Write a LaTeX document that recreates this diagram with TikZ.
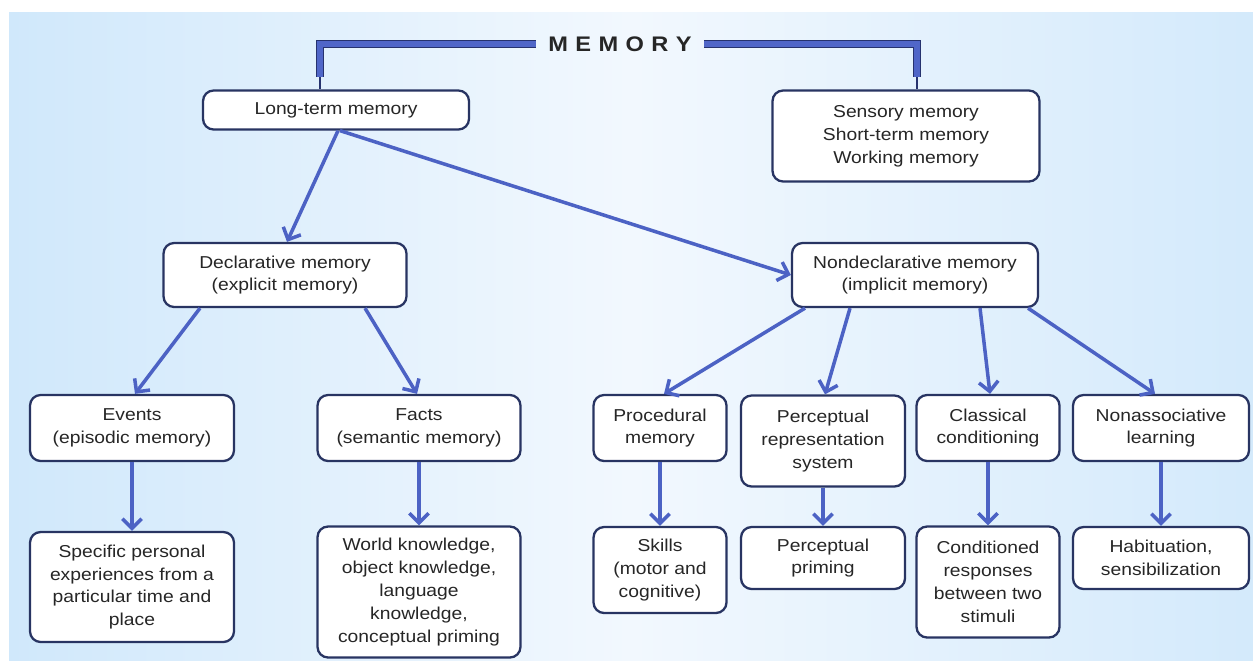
\documentclass[tikz,border=0pt]{standalone}
\usepackage{fontspec}
\setmainfont{Liberation Sans}[FakeStretch=1.12]
\usepackage{tikz}
\usetikzlibrary{arrows.meta, calc}
\definecolor{bgblue}{RGB}{160,207,246}
\definecolor{bglight}{RGB}{208,232,251}
\definecolor{bgmid}{RGB}{242,248,254}
\definecolor{arrowblue}{RGB}{76,98,196}
\definecolor{boxline}{RGB}{40,52,98}
\definecolor{barblue}{RGB}{80,102,200}
\definecolor{barline}{RGB}{38,50,110}
\pgfdeclarehorizontalshading{bgshade}{100bp}{color(0bp)=(bgblue); color(6bp)=(bglight); color(25bp)=(bglight); color(50bp)=(bgmid); color(78bp)=(bglight); color(93bp)=(bglight); color(100bp)=(bgblue)}
\tikzstyle{arrow} = [draw=arrowblue, line width=2pt, -{Straight Barb[length=5.5pt,width=11pt]}]
\tikzstyle{memb} = [draw=boxline, line width=1.3pt, fill=white, rounded corners=6pt, align=center, inner sep=0pt, text=black!85, font=\fontsize{9.8}{13}\selectfont]
\tikzstyle{bar} = [draw=barline, line width=0.6pt, double=barblue, double distance=3.6pt]
\tikzstyle{stem} = [draw=barline, line width=1pt]

\begin{document}
\begin{tikzpicture}[x=0.02cm, y=-0.02cm]
		% background
		\fill[white] (0,0) rectangle (1253,660);
		\shade[shading=bgshade] (9,12) rectangle (1253,660);
		\useasboundingbox (0,0) rectangle (1253,660);

		% title and bracket
		\node (title) at (620,44) [inner xsep=7pt, inner ysep=0pt, text=black!85, font=\fontsize{12}{12}\selectfont\bfseries] {M\hspace{4.2pt}E\hspace{4.2pt}M\hspace{4.2pt}O\hspace{4.2pt}R\hspace{4.2pt}Y};
		\node (ltm) at (336,110) [memb, minimum width=5.32cm, minimum height=0.78cm] {Long-term memory};
		\node (stm) at (906,136) [memb, minimum width=5.34cm, minimum height=1.82cm] {Sensory memory\\Short-term memory\\Working memory};
		\coordinate (lcorner) at (320,77);
		\coordinate (rcorner) at (917,77);
		\draw [bar] (title.west) -| (lcorner);
		\draw [bar] (title.east) -| (rcorner);
		\draw [stem] (lcorner) -- (lcorner |- ltm.north);
		\draw [stem] (rcorner) -- (rcorner |- stm.north);

		% second level
		\node (decl) at (285,275) [memb, minimum width=4.86cm, minimum height=1.28cm] {Declarative memory\\(explicit memory)};
		\node (nondecl) at (915,275) [memb, minimum width=4.92cm, minimum height=1.28cm] {Nondeclarative memory\\(implicit memory)};
		\draw [arrow] ($(ltm.south)+(2,0)$) -- ($(decl.north)+(2,0)$);
		\draw [arrow] ($(ltm.south)+(4,0)$) -- (nondecl.west);

		% third level
		\node (events) at (132,428) [memb, minimum width=4.08cm, minimum height=1.32cm] {Events\\(episodic memory)};
		\node (facts) at (419,428) [memb, minimum width=4.06cm, minimum height=1.32cm] {Facts\\(semantic memory)};
		\node (proc) at (660,428) [memb, minimum width=2.66cm, minimum height=1.32cm] {Procedural\\memory};
		\node (prs) at (823,441) [memb, minimum width=3.28cm, minimum height=1.82cm] {Perceptual\\representation\\system};
		\node (classic) at (988,428) [memb, minimum width=2.86cm, minimum height=1.32cm] {Classical\\conditioning};
		\node (nonassoc) at (1161,428) [memb, minimum width=3.52cm, minimum height=1.32cm] {Nonassociative\\learning};
		\draw [arrow] ($(decl.south)+(-85,0)$) -- ($(events.north)+(3,0)$);
		\draw [arrow] ($(decl.south)+(80,0)$) -- ($(facts.north)+(-2,0)$);
		\draw [arrow] ($(nondecl.south)+(-110,0)$) -- ($(proc.north)+(4,0)$);
		\draw [arrow] ($(nondecl.south)+(-65,0)$) -- ($(prs.north)+(2,0)$);
		\draw [arrow] ($(nondecl.south)+(65,0)$) -- ($(classic.north)+(2,0)$);
		\draw [arrow] ($(nondecl.south)+(113,0)$) -- ($(nonassoc.north)+(-6,0)$);

		% bottom level
		\node (specific) at (132,587) [memb, minimum width=4.08cm, minimum height=2.2cm] {Specific personal\\experiences from a\\particular time and\\place};
		\node (world) at (419,592) [memb, minimum width=4.06cm, minimum height=2.62cm] {World knowledge,\\object knowledge,\\language\\knowledge,\\conceptual priming};
		\node (skills) at (660,570) [memb, minimum width=2.66cm, minimum height=1.72cm] {Skills\\(motor and\\cognitive)};
		\node (pp) at (823,558) [memb, minimum width=3.28cm, minimum height=1.24cm] {Perceptual\\priming};
		\node (cond) at (988,582) [memb, minimum width=2.86cm, minimum height=2.22cm] {Conditioned\\responses\\between two\\stimuli};
		\node (habit) at (1161,558) [memb, minimum width=3.52cm, minimum height=1.24cm] {Habituation,\\sensibilization};
		\draw [arrow] (events) -- (specific);
		\draw [arrow] (facts) -- (world);
		\draw [arrow] (proc) -- (skills);
		\draw [arrow] (prs) -- (pp);
		\draw [arrow] (classic) -- (cond);
		\draw [arrow] (nonassoc) -- (habit);
\end{tikzpicture}
\end{document}
